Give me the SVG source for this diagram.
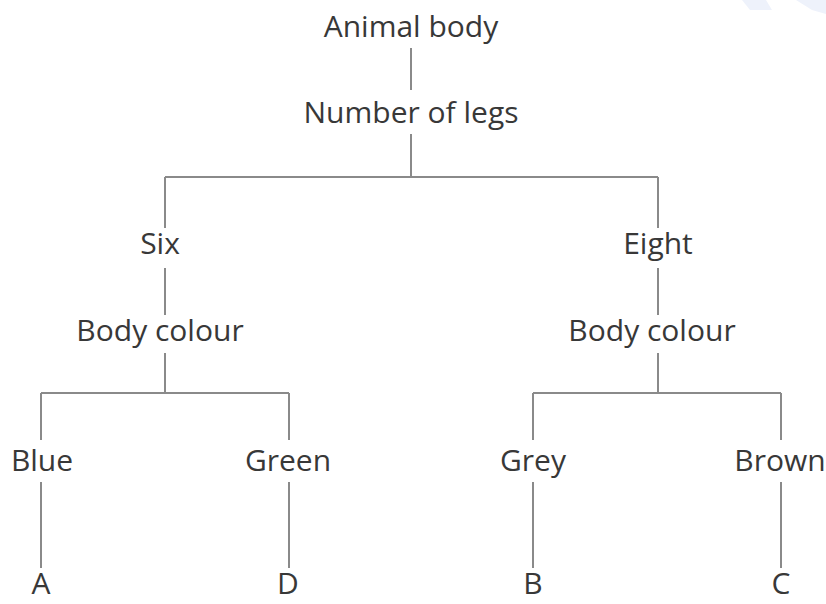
<svg xmlns="http://www.w3.org/2000/svg" width="826" height="604" viewBox="0 0 826 604">
<style>
text{font-family:"Open Sans","Noto Sans","DejaVu Sans",sans-serif;font-size:30px;fill:#383838;text-anchor:middle}
.c line{stroke:#8a8a8a;stroke-width:2;fill:none}
</style>
<rect width="826" height="604" fill="#fff"/>
<g id="watermark" fill="#eef2fb">
<polygon points="742,0 766,0 772,10 750,10"/>
<polygon points="796,0 826,0 826,14 812,10"/>
</g>
<g class="c" id="connectors">
<line x1="411" y1="48" x2="411" y2="90"/>
<line x1="411" y1="134" x2="411" y2="177"/>
<line x1="165" y1="177" x2="658" y2="177"/>
<line x1="165" y1="177" x2="165" y2="228"/>
<line x1="658" y1="177" x2="658" y2="228"/>
<line x1="165" y1="268" x2="165" y2="315"/>
<line x1="658" y1="268" x2="658" y2="315"/>
<line x1="165" y1="353" x2="165" y2="393"/>
<line x1="658" y1="353" x2="658" y2="393"/>
<line x1="41" y1="393" x2="289" y2="393"/>
<line x1="533" y1="393" x2="781" y2="393"/>
<line x1="41" y1="393" x2="41" y2="440"/>
<line x1="289" y1="393" x2="289" y2="440"/>
<line x1="533" y1="393" x2="533" y2="440"/>
<line x1="781" y1="393" x2="781" y2="440"/>
<line x1="41" y1="482" x2="41" y2="568"/>
<line x1="289" y1="482" x2="289" y2="568"/>
<line x1="533" y1="482" x2="533" y2="568"/>
<line x1="781" y1="482" x2="781" y2="568"/>
</g>
<g id="n-animal"><text x="411" y="37">Animal body</text></g>
<g id="n-legs"><text x="411" y="123">Number of legs</text></g>
<g id="n-six"><text x="160" y="254">Six</text></g>
<g id="n-eight"><text x="658" y="254">Eight</text></g>
<g id="n-colour1"><text x="160" y="341">Body colour</text></g>
<g id="n-colour2"><text x="652" y="341">Body colour</text></g>
<g id="n-blue"><text x="42" y="471">Blue</text></g>
<g id="n-green"><text x="288" y="471">Green</text></g>
<g id="n-grey"><text x="533" y="471">Grey</text></g>
<g id="n-brown"><text x="780" y="471">Brown</text></g>
<g id="n-a"><text x="41" y="594">A</text></g>
<g id="n-d"><text x="288" y="594">D</text></g>
<g id="n-b"><text x="533" y="594">B</text></g>
<g id="n-c"><text x="781" y="594">C</text></g>
</svg>
